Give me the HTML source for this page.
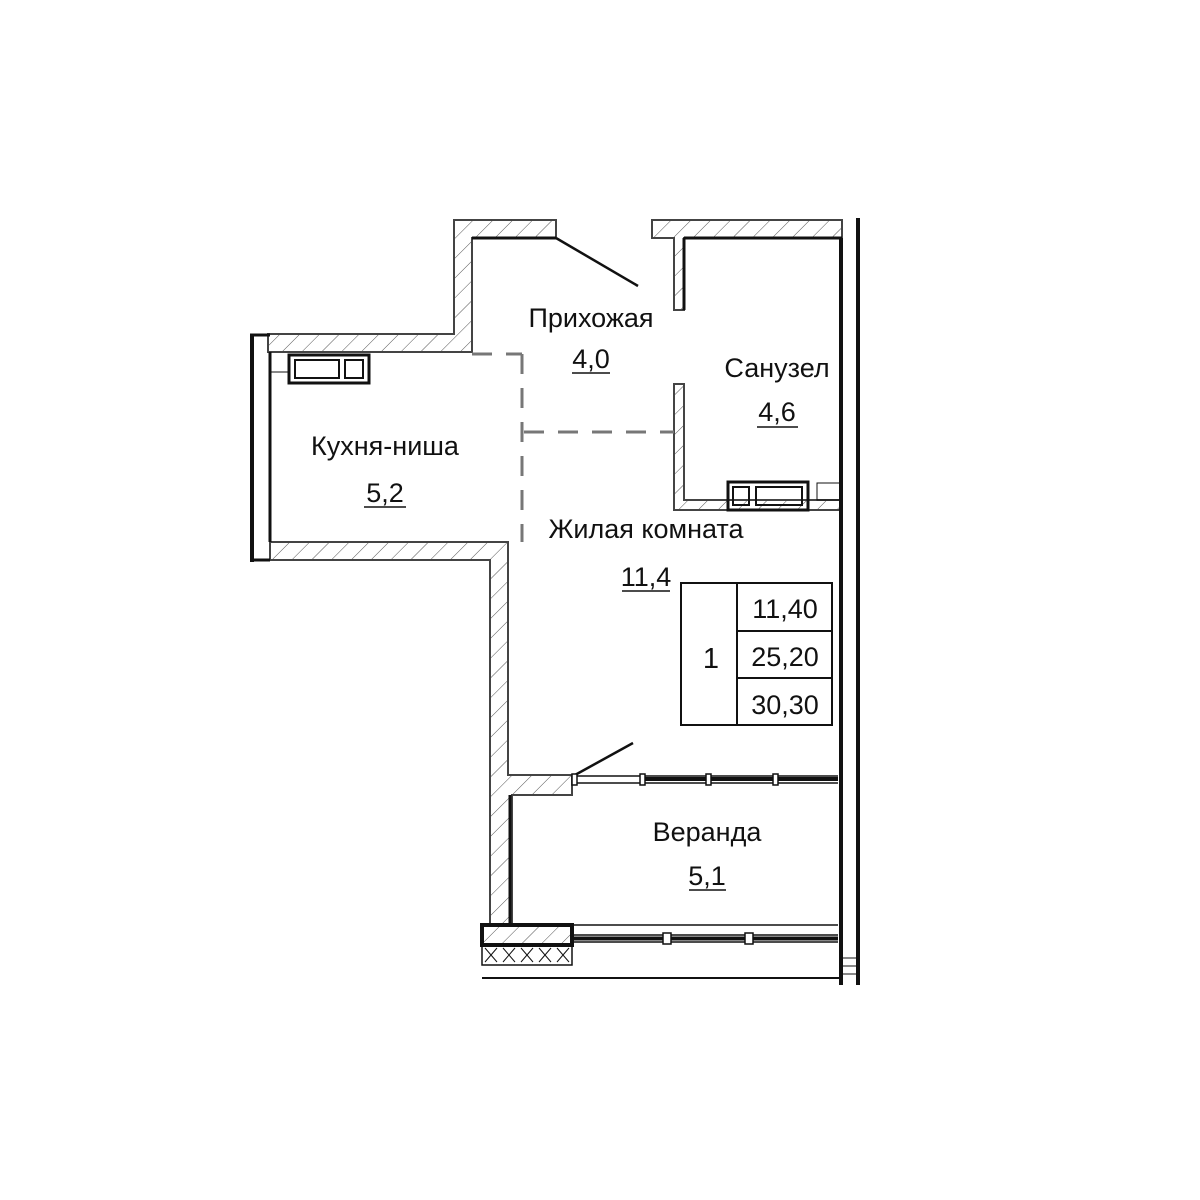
<!DOCTYPE html>
<html><head><meta charset="utf-8"><style>
html,body{margin:0;padding:0;background:#fff}
svg{display:block}
text{font-family:"Liberation Sans Narrow","Liberation Sans",sans-serif;fill:#111}
</style></head><body>
<svg width="1200" height="1200" viewBox="0 0 1200 1200" xmlns="http://www.w3.org/2000/svg">
<defs>
<pattern id="h" patternUnits="userSpaceOnUse" width="14" height="14" patternTransform="rotate(45)">
<rect width="14" height="14" fill="#fff"/><line x1="0" y1="0" x2="0" y2="14" stroke="#555" stroke-width="1"/>
</pattern>
</defs>
<g stroke="#444" stroke-width="2" fill="url(#h)">
<!-- top-left hall wall + kitchen top wall -->
<polygon points="454,220 556,220 556,238 472,238 472,352 268,352 268,334 454,334"/>
<!-- kitchen bottom + living left wall -->
<polygon points="270,542 508,542 508,775 572,775 572,795 512,795 512,925 490,925 490,560 270,560"/>
<!-- right top wall -->
<polygon points="652,220 842,220 842,238 684,238 684,310 674,310 674,238 652,238"/>
<!-- bathroom partition -->
<polygon points="674,384 684,384 684,500 842,500 842,510 674,510"/>
</g>
<g stroke="#111" fill="none">
<line x1="472" y1="238" x2="556" y2="238" stroke-width="3"/>
<line x1="684" y1="238" x2="842" y2="238" stroke-width="3"/>
<line x1="684" y1="238" x2="684" y2="310" stroke-width="3"/>
<line x1="252" y1="334" x2="252" y2="562" stroke-width="4"/>
<line x1="250" y1="335" x2="270" y2="335" stroke-width="3"/>
<line x1="250" y1="560" x2="270" y2="560" stroke-width="3"/>
<line x1="270" y1="352" x2="270" y2="542" stroke-width="3"/>
<line x1="841" y1="238" x2="841" y2="985" stroke-width="4"/>
<line x1="858" y1="218" x2="858" y2="985" stroke-width="4"/>
<line x1="556" y1="238" x2="638" y2="286" stroke-width="2.5"/>
<line x1="575" y1="775" x2="633" y2="743" stroke-width="2.5"/>
<line x1="510" y1="795" x2="510" y2="925" stroke-width="3"/>
<!-- stoves -->
<rect x="289" y="355" width="80" height="28" stroke-width="3"/>
<rect x="295" y="360" width="44" height="18" stroke-width="2"/>
<rect x="345" y="360" width="18" height="18" stroke-width="2"/>
<line x1="270" y1="372" x2="289" y2="372" stroke-width="1"/>
<rect x="728" y="482" width="80" height="28" stroke-width="3"/>
<rect x="733" y="487" width="16" height="18" stroke-width="2"/>
<rect x="756" y="487" width="46" height="18" stroke-width="2"/>
<rect x="817" y="483" width="24" height="17" stroke-width="1"/>
<!-- dashed -->
<g stroke="#777" stroke-width="3" stroke-dasharray="20,14">
<line x1="472" y1="354" x2="522" y2="354"/>
<line x1="522" y1="354" x2="522" y2="542"/>
<line x1="524" y1="432" x2="674" y2="432"/>
</g>
<!-- windows -->
<line x1="572" y1="776" x2="838" y2="776" stroke-width="1.5"/>
<line x1="572" y1="783" x2="838" y2="783" stroke-width="1.5"/>
<line x1="643" y1="779" x2="838" y2="779" stroke-width="4"/>
<rect x="572" y="774" width="5" height="11" stroke-width="1.5" fill="#fff"/>
<rect x="640" y="774" width="5" height="11" stroke-width="1.5" fill="#fff"/>
<rect x="706" y="774" width="5" height="11" stroke-width="1.5" fill="#fff"/>
<rect x="773" y="774" width="5" height="11" stroke-width="1.5" fill="#fff"/>
<line x1="572" y1="925" x2="838" y2="925" stroke-width="1.5"/>
<line x1="572" y1="935" x2="838" y2="935" stroke-width="1.5"/>
<line x1="572" y1="942" x2="838" y2="942" stroke-width="1.5"/>
<line x1="574" y1="938.5" x2="838" y2="938.5" stroke-width="4"/>
<rect x="663" y="933" width="8" height="11" stroke-width="1.5" fill="#fff"/>
<rect x="745" y="933" width="8" height="11" stroke-width="1.5" fill="#fff"/>
<rect x="482" y="925" width="90" height="20" stroke-width="4" fill="url(#h)"/>
<rect x="482" y="945" width="90" height="20" stroke-width="1.5"/>
<path d="M482,945 L572,965 M482,965 L572,945" stroke-width="0"/>
<path d="M485,948 l12,14 M497,948 l-12,14 M503,948 l12,14 M515,948 l-12,14 M521,948 l12,14 M533,948 l-12,14 M539,948 l12,14 M551,948 l-12,14 M557,948 l12,14 M569,948 l-12,14" stroke-width="1"/>
<line x1="482" y1="978" x2="840" y2="978" stroke-width="2"/>
<line x1="842" y1="958" x2="858" y2="958" stroke-width="1"/>
<line x1="842" y1="966" x2="858" y2="966" stroke-width="1"/>
<line x1="842" y1="974" x2="858" y2="974" stroke-width="1"/>
<!-- table -->
<rect x="681" y="583" width="151" height="142" stroke-width="2"/>
<line x1="737" y1="583" x2="737" y2="725" stroke-width="2"/>
<line x1="737" y1="631" x2="832" y2="631" stroke-width="2"/>
<line x1="737" y1="678" x2="832" y2="678" stroke-width="2"/>
</g>
<g font-size="27">
<text x="591" y="327" text-anchor="middle">Прихожая</text>
<text x="591" y="368" text-anchor="middle">4,0</text>
<text x="777" y="377" text-anchor="middle">Санузел</text>
<text x="777" y="421" text-anchor="middle">4,6</text>
<text x="385" y="455" text-anchor="middle">Кухня-ниша</text>
<text x="385" y="502" text-anchor="middle">5,2</text>
<text x="646" y="538" text-anchor="middle">Жилая комната</text>
<text x="646" y="586" text-anchor="middle">11,4</text>
<text x="707" y="841" text-anchor="middle">Веранда</text>
<text x="707" y="885" text-anchor="middle">5,1</text>
<text x="785" y="618" text-anchor="middle">11,40</text>
<text x="785" y="666" text-anchor="middle">25,20</text>
<text x="785" y="714" text-anchor="middle">30,30</text>
<text x="711" y="668" text-anchor="middle" font-size="29">1</text>
</g>
<g stroke="#111" stroke-width="1.5">
<line x1="572" y1="373" x2="610" y2="373"/>
<line x1="757" y1="427" x2="798" y2="427"/>
<line x1="364" y1="507" x2="406" y2="507"/>
<line x1="622" y1="591" x2="670" y2="591"/>
<line x1="689" y1="890" x2="726" y2="890"/>
</g>
</svg>
</body></html>
